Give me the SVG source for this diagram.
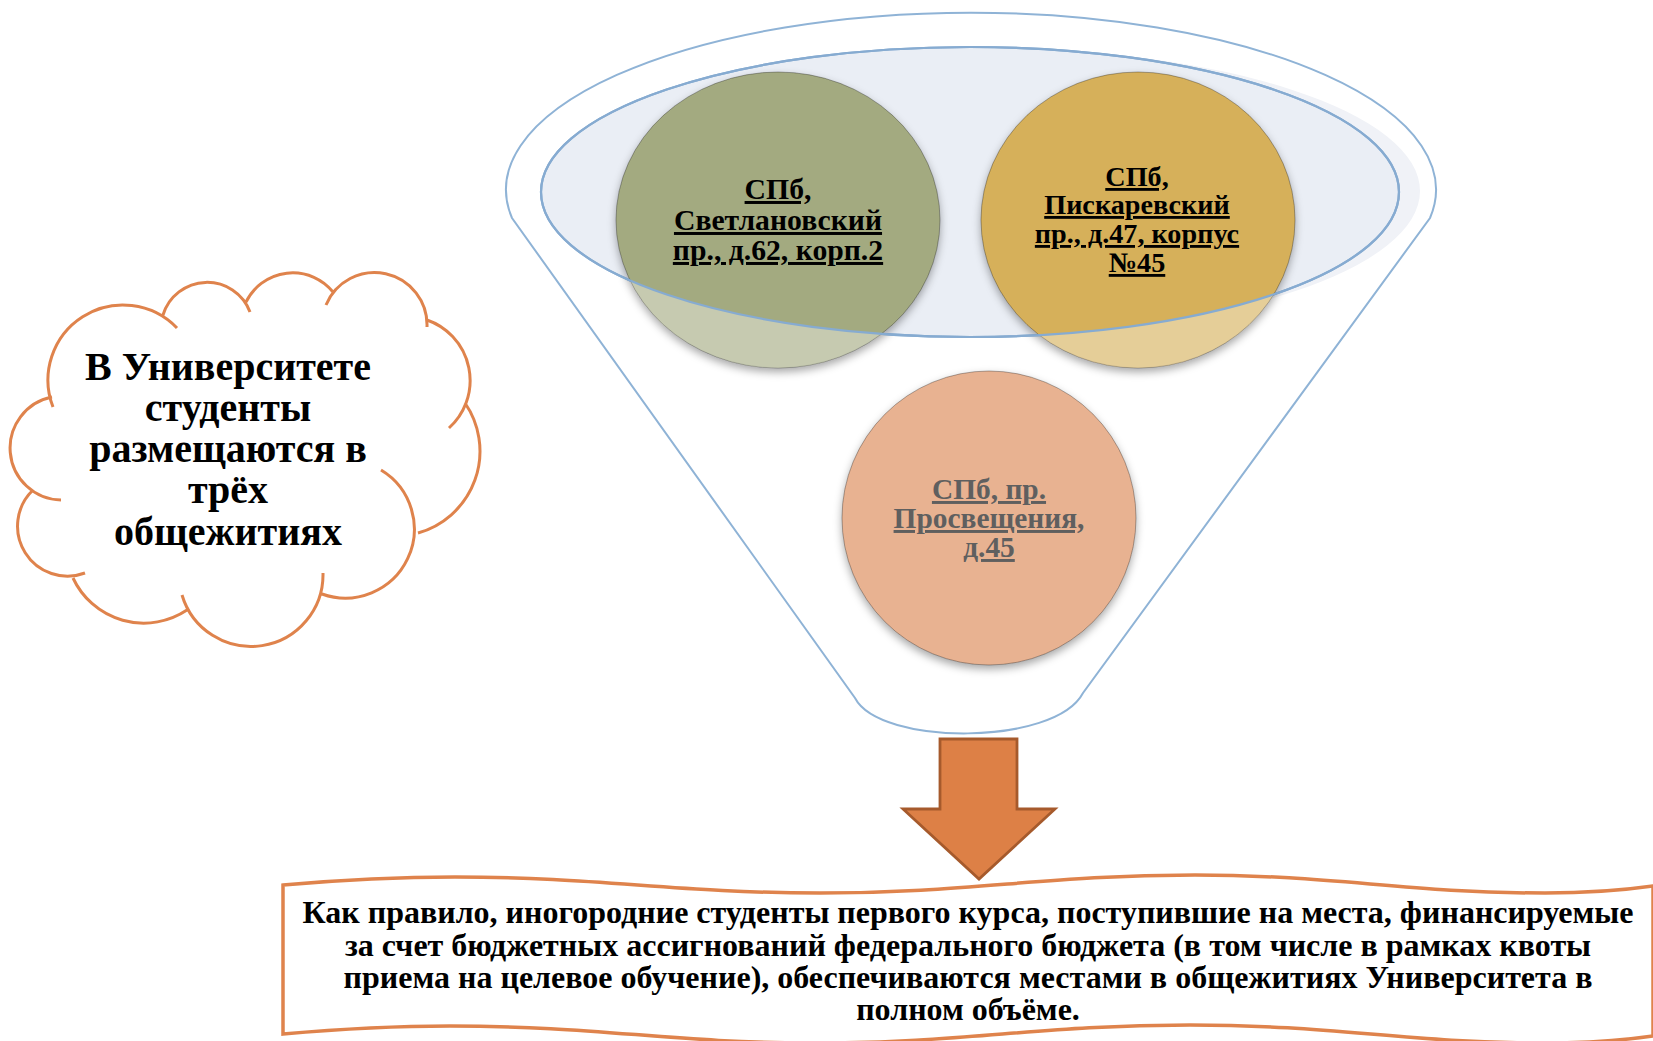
<svg xmlns="http://www.w3.org/2000/svg" width="1653" height="1041" viewBox="0 0 1653 1041">
<defs>
<style>
.funnel{fill:none;stroke:#8fb3d6;stroke-width:2}
.rim{fill:#eaeef5;stroke:#86abd1;stroke-width:2.2}
.cloud{fill:none;stroke:#df834c;stroke-width:3;stroke-linecap:butt}
.t{font-family:"Liberation Serif","Times New Roman",serif;font-weight:bold;text-anchor:middle}
.u{text-decoration:underline;text-decoration-skip-ink:none}
.circ{stroke:#000;stroke-opacity:0.3;stroke-width:1}
</style>
<filter id="sh" x="-20%" y="-20%" width="140%" height="150%">
<feDropShadow dx="0" dy="4" stdDeviation="4" flood-color="#000" flood-opacity="0.35"/>
</filter>
<clipPath id="outside">
<path clip-rule="evenodd" d="M0,0 H1653 V1041 H0 Z M541,192 A429 145 0 1 0 1399,192 A429 145 0 1 0 541,192 Z"/>
</clipPath>
</defs>
<rect width="1653" height="1041" fill="#fff"/>

<g id="funnel">
<path class="funnel" d="M512,218 A465 177 0 1 1 1430,218 L1083,693 C1055,746 880,746 855,698 Z"/>
<ellipse cx="984" cy="191" rx="436" ry="143" fill="#f0f2f7"/>
<ellipse class="rim" cx="970" cy="192" rx="429" ry="145"/>
</g>

<g id="dorm-svetlanovsky">
<ellipse class="circ" cx="778" cy="220" rx="162" ry="148" fill="#a3aa80" filter="url(#sh)"/>
<ellipse cx="778" cy="220" rx="162" ry="148" fill="#fff" fill-opacity="0.38" clip-path="url(#outside)"/>
</g>
<g id="dorm-piskarevsky">
<ellipse class="circ" cx="1138" cy="220" rx="157" ry="148" fill="#d6b05a" filter="url(#sh)"/>
<ellipse cx="1138" cy="220" rx="157" ry="148" fill="#fff" fill-opacity="0.38" clip-path="url(#outside)"/>
</g>
<ellipse cx="970" cy="192" rx="429" ry="145" fill="none" stroke="#86abd1" stroke-width="2.2"/>
<g id="labels-top">
<text class="t u" font-size="29.7" fill="#000"><tspan x="778" y="199">СПб,</tspan><tspan x="778" y="230">Светлановский</tspan><tspan x="778" y="260">пр., д.62, корп.2</tspan></text>
<text class="t u" font-size="28.2" fill="#000"><tspan x="1137" y="186">СПб,</tspan><tspan x="1137" y="214">Пискаревский</tspan><tspan x="1137" y="243">пр., д.47, корпус</tspan><tspan x="1137" y="272">№45</tspan></text>
</g>

<g id="dorm-prosvescheniya">
<circle class="circ" cx="989" cy="518" r="147" fill="#e8b291" filter="url(#sh)"/>
<text class="t u" font-size="29.4" fill="#5f5f5f"><tspan x="989" y="499">СПб, пр.</tspan><tspan x="989" y="528">Просвещения,</tspan><tspan x="989" y="557">д.45</tspan></text>
</g>

<g id="cloud">
<path class="cloud" d="M53,407 A75 75 0 0 1 177,328
M163,315 A46 46 0 0 1 250,312
M246,302 A52 52 0 0 1 333,292
M326,305 A52.5 52.5 0 0 1 427,327
M427,320 A64 64 0 0 1 449,428
M465,403 A85 85 0 0 1 418,533
M381,470 A69 69 0 0 1 322,594
M182,595 A72 72 0 0 0 323,573
M73,578 A78 78 0 0 0 187,610
M33,490 A50 50 0 0 0 85,573
M52,397 A52 52 0 0 0 61,500"/>
<text class="t" font-size="40" fill="#000"><tspan x="228" y="380">В Университете</tspan><tspan x="228" y="421">студенты</tspan><tspan x="228" y="462">размещаются в</tspan><tspan x="228" y="503">трёх</tspan><tspan x="228" y="545">общежитиях</tspan></text>
</g>

<g id="banner">
<path fill="#fff" stroke="#df834c" stroke-width="3.5" d="M283,885 C340,880 390,877 455,877 C600,877 675,893 820,893 C970,893 1045,875 1195,875 C1335,875 1405,893 1545,893 C1590,893 1625,890 1653,886 L1653,1036 C1625,1040 1590,1043 1545,1043 C1405,1043 1335,1025 1190,1025 C1040,1025 965,1043 815,1043 C670,1043 600,1026 450,1026 C390,1026 340,1029 283,1034 Z"/>
<text class="t" font-size="32" fill="#000"><tspan x="968" y="923">Как правило, иногородние студенты первого курса, поступившие на места, финансируемые</tspan><tspan x="968" y="956">за счет бюджетных ассигнований федерального бюджета (в том числе в рамках квоты</tspan><tspan x="968" y="988">приема на целевое обучение), обеспечиваются местами в общежитиях Университета в</tspan><tspan x="968" y="1020">полном объёме.</tspan></text>
</g>

<g id="connectors">
<path fill="#dd8046" stroke="#a65a2c" stroke-width="2.8" stroke-linejoin="miter" d="M940,739 H1017 V809 H1055 L979,879 L903,809 H940 Z"/>
</g>
</svg>
